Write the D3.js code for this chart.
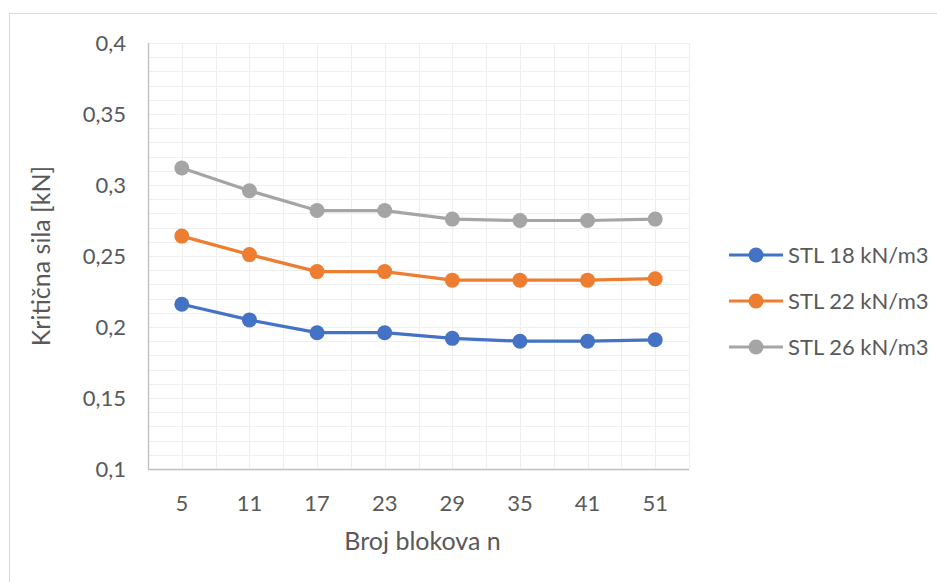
<!DOCTYPE html>
<html>
<head>
<meta charset="utf-8">
<script src="https://cdn.jsdelivr.net/npm/d3@7"></script>
<style>
  html, body { margin: 0; padding: 0; background: #fff; }
  svg { display: block; }
  text { font-family: Lato, "Liberation Sans", sans-serif; fill: #595959; }
</style>
</head>
<body>
<svg id="chart" width="937" height="582"></svg>
<script>
const categories = ["5", "11", "17", "23", "29", "35", "41", "51"];
const seriesNames = ["STL 18 kN/m3", "STL 22 kN/m3", "STL 26 kN/m3"];
const stl18 = [0.216, 0.205, 0.196, 0.196, 0.192, 0.190, 0.190, 0.191];
const stl22 = [0.264, 0.251, 0.239, 0.239, 0.233, 0.233, 0.233, 0.234];
const stl26 = [0.312, 0.296, 0.282, 0.282, 0.276, 0.275, 0.275, 0.276];
const colors = ["#4472c4", "#ed7d31", "#a5a5a5"];
const yTicks = [0.1, 0.15, 0.2, 0.25, 0.3, 0.35, 0.4];
const yTitle = "Kritična sila [kN]";
const xTitle = "Broj blokova n";

const series = [stl18, stl22, stl26];
const svg = d3.select("#chart");

svg.append("rect").attr("x", 9.5).attr("y", 13.5).attr("width", 940).attr("height", 580)
  .attr("fill", "none").attr("stroke", "#d9d9d9").attr("stroke-width", 1);

const pLeft = 148, pRight = 689, pTop = 43, pBottom = 469;
const x = d3.scalePoint().domain(categories).range([pLeft, pRight]).padding(0.5);
const step = x.step();
const y = d3.scaleLinear().domain([0.1, 0.4]).range([pBottom, pTop]);

const grid = svg.append("g");
const hTicks = d3.range(0, 31).map(i => 0.1 + i * 0.01);
grid.selectAll("line.h").data(hTicks).enter().append("line")
  .attr("x1", pLeft).attr("x2", pRight)
  .attr("y1", d => Math.round(y(d)) + 0.5).attr("y2", d => Math.round(y(d)) + 0.5)
  .attr("stroke", "#efefef").attr("stroke-width", 1.2);
const vPos = [];
categories.forEach(c => { vPos.push(x(c) - step / 2); vPos.push(x(c)); });
vPos.push(pRight);
grid.selectAll("line.v").data(vPos).enter().append("line")
  .attr("y1", pTop).attr("y2", pBottom)
  .attr("x1", d => Math.round(d) + 0.5).attr("x2", d => Math.round(d) + 0.5)
  .attr("stroke", "#efefef").attr("stroke-width", 1.2);

svg.append("line").attr("x1", pLeft + 0.5).attr("x2", pLeft + 0.5).attr("y1", pTop).attr("y2", pBottom + 0.5)
  .attr("stroke", "#bfbfbf").attr("stroke-width", 1.3);
svg.append("line").attr("x1", pLeft).attr("x2", pRight).attr("y1", pBottom + 0.5).attr("y2", pBottom + 0.5)
  .attr("stroke", "#bfbfbf").attr("stroke-width", 1.3);

const fmt = d => String(+d.toFixed(2)).replace(".", ",");
svg.selectAll("text.yt").data(yTicks).enter().append("text")
  .attr("x", 126).attr("y", d => y(d)).attr("dy", "0.36em")
  .attr("text-anchor", "end").attr("font-size", 22).text(fmt);

svg.selectAll("text.xt").data(categories).enter().append("text")
  .attr("x", d => x(d)).attr("y", 503).attr("dy", "0.36em")
  .attr("text-anchor", "middle").attr("font-size", 22).text(d => d);

svg.append("text").attr("transform", `translate(41,${(pTop + pBottom) / 2}) rotate(-90)`)
  .attr("dy", "0.36em").attr("text-anchor", "middle").attr("font-size", 25).text(yTitle);
svg.append("text").attr("x", (pLeft + pRight) / 2 + 4).attr("y", 541).attr("dy", "0.36em")
  .attr("text-anchor", "middle").attr("font-size", 25).text(xTitle);

const line = d3.line().x((d, i) => x(categories[i])).y(d => y(d));
series.forEach((s, k) => {
  svg.append("path").datum(s).attr("d", line).attr("fill", "none")
    .attr("stroke", colors[k]).attr("stroke-width", 3.2).attr("stroke-linejoin", "round");
  svg.selectAll(null).data(s).enter().append("circle")
    .attr("cx", (d, i) => x(categories[i])).attr("cy", d => y(d)).attr("r", 7.5)
    .attr("fill", colors[k]);
});

const legendY = [255, 301, 347];
seriesNames.forEach((name, k) => {
  const g = svg.append("g").attr("transform", `translate(0,${legendY[k]})`);
  g.append("line").attr("x1", 729).attr("x2", 783).attr("y1", 0).attr("y2", 0)
    .attr("stroke", colors[k]).attr("stroke-width", 3.2);
  g.append("circle").attr("cx", 756).attr("cy", 0).attr("r", 7.5).attr("fill", colors[k]);
  g.append("text").attr("x", 788).attr("y", 0).attr("dy", "0.36em").attr("font-size", 22).text(name);
});
</script>
</body>
</html>
